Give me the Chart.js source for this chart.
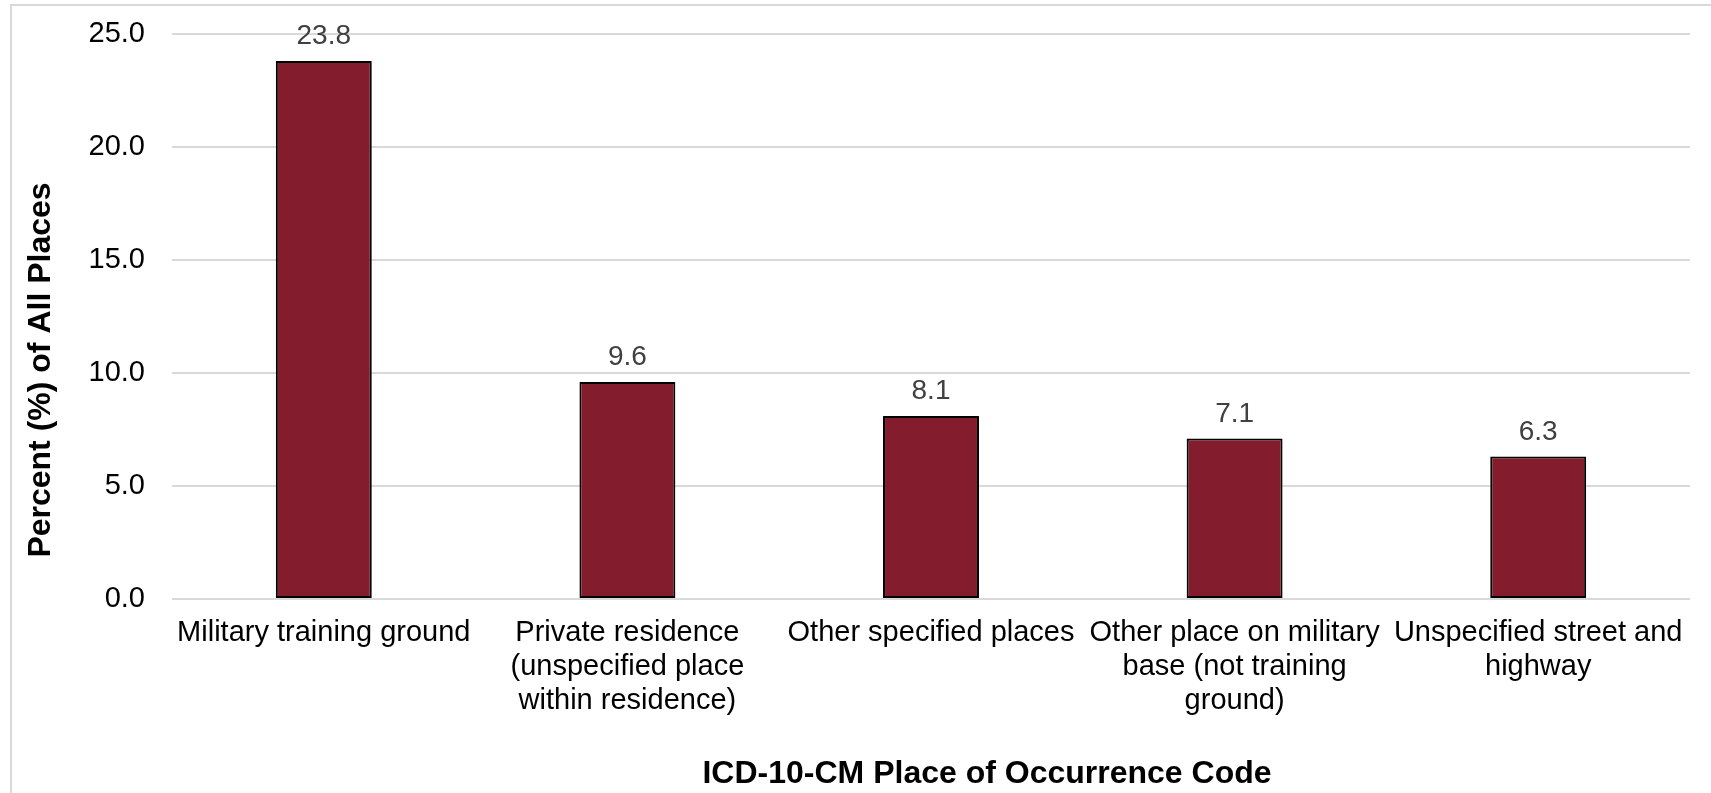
<!DOCTYPE html>
<html>
<head>
<meta charset="utf-8">
<script src="https://cdn.jsdelivr.net/npm/chart.js@4/dist/chart.umd.min.js"></script>
<style>
  html, body { margin: 0; padding: 0; background: #ffffff; overflow: hidden; }
  #wrap { position: absolute; left: 10px; top: 4px; width: 1699px; height: 787px;
          border-left: 2px solid #d9d9d9; border-top: 2px solid #d9d9d9; }
  canvas { display: block; }
</style>
</head>
<body>
<div id="wrap"><canvas id="c" width="1699" height="787"></canvas></div>
<script>
const categories = [
  "Military training ground",
  ["Private residence", "(unspecified place", "within residence)"],
  "Other specified places",
  ["Other place on military", "base (not training", "ground)"],
  ["Unspecified street and", "highway"]
];
const percentValues = [23.8, 9.6, 8.1, 7.1, 6.3];
const yTickValues = [0, 5, 10, 15, 20, 25];
const yAxisTitle = "Percent (%) of All Places";
const xAxisTitle = "ICD-10-CM Place of Occurrence Code";

const FONT = '"Liberation Sans", Arial, Helvetica, sans-serif';

const labelsAndTitles = {
  id: 'labelsAndTitles',
  afterDatasetsDraw(chart) {
    const ctx = chart.ctx;
    const meta = chart.getDatasetMeta(0);
    ctx.save();
    ctx.font = '28px ' + FONT;
    ctx.fillStyle = '#404040';
    ctx.textAlign = 'center';
    ctx.textBaseline = 'alphabetic';
    meta.data.forEach((bar, i) => {
      ctx.fillText(percentValues[i].toFixed(1), bar.x, bar.y - 17);
    });
    ctx.restore();
  },
  afterDraw(chart) {
    const ctx = chart.ctx;
    ctx.save();
    ctx.font = 'bold 32px ' + FONT;
    ctx.fillStyle = '#000000';
    ctx.textAlign = 'center';
    ctx.textBaseline = 'middle';
    ctx.save();
    ctx.translate(29, 364);
    ctx.rotate(-Math.PI / 2);
    ctx.fillText(yAxisTitle, 0, 0);
    ctx.restore();
    ctx.fillText(xAxisTitle, 975, 768);
    ctx.restore();
  }
};

new Chart(document.getElementById('c'), {
  type: 'bar',
  data: {
    labels: categories,
    datasets: [{
      data: percentValues,
      backgroundColor: '#831C2C',
      borderColor: '#000000',
      borderWidth: 2,
      borderSkipped: false,
      categoryPercentage: 0.316,
      barPercentage: 1.0
    }]
  },
  options: {
    responsive: false,
    devicePixelRatio: 1,
    animation: false,
    layout: { padding: { left: 0, right: 21, top: 28, bottom: 0 } },
    plugins: {
      legend: { display: false },
      tooltip: { enabled: false },
      title: { display: false }
    },
    scales: {
      x: {
        grid: { display: false, drawTicks: false },
        border: { display: false },
        ticks: {
          color: '#000000',
          font: { family: FONT, size: 29, lineHeight: 1.17 },
          padding: 17,
          maxRotation: 0,
          minRotation: 0,
          autoSkip: false
        },
        afterFit(scale) { scale.height = 194; scale.paddingTop = 0; }
      },
      y: {
        min: 0,
        max: 25,
        afterBuildTicks(scale) { scale.ticks = yTickValues.map(v => ({ value: v })); },
        grid: { color: '#d9d9d9', lineWidth: 2, drawTicks: false },
        border: { display: false },
        ticks: {
          color: '#000000',
          font: { family: FONT, size: 29 },
          padding: 27,
          callback: (v) => Number(v).toFixed(1)
        },
        afterFit(scale) { scale.width = 160; scale.paddingTop = 0; scale.paddingBottom = 0; }
      }
    }
  },
  plugins: [labelsAndTitles]
});
</script>
</body>
</html>
